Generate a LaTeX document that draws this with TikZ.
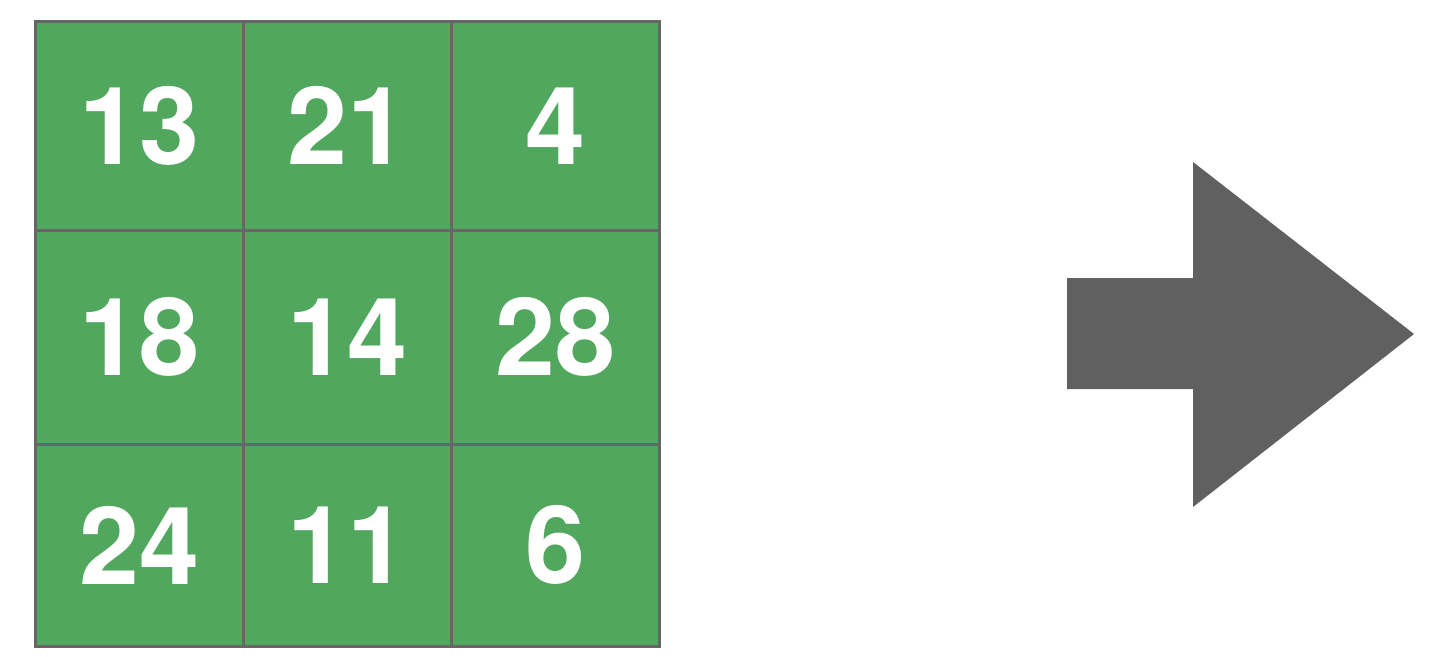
\documentclass[tikz,border=0pt]{standalone}
\usepackage{fontspec}
\setmainfont{TeX Gyre Heros}
\usepackage{tikz}
\definecolor{cellgreen}{RGB}{82,167,94}
\definecolor{gridgray}{RGB}{102,102,102}
\definecolor{arrowgray}{RGB}{96,96,96}
\tikzset{
  cell/.style={draw=gridgray, line width=3pt, fill=cellgreen, inner sep=0pt,
    text=white, font=\fontsize{108}{108}\selectfont\bfseries},
  wide/.style={minimum width=208pt},
  rowa/.style={minimum height=208.5pt},
  rowb/.style={minimum height=214pt},
  rowc/.style={minimum height=202pt}
}
\begin{document}
\begin{tikzpicture}[x=1pt,y=-1pt]
                \useasboundingbox (0,0) rectangle (1450,656);
                % top row
                \node[cell,wide,rowa] (c11) at (139.25,125.75) {13};
                \node[cell,wide,rowa] (c12) at (347.5,125.75) {21};
                \node[cell,wide,rowa] (c13) at (555.25,125.75) {4};
                % middle row
                \node[cell,wide,rowb] (c21) at (139.25,337) {18};
                \node[cell,wide,rowb] (c22) at (347.5,337) {14};
                \node[cell,wide,rowb] (c23) at (555.25,337) {28};
                % bottom row
                \node[cell,wide,rowc] (c31) at (139.25,545) {24};
                \node[cell,wide,rowc] (c32) at (347.5,545) {11};
                \node[cell,wide,rowc] (c33) at (555.25,545) {6};

                % block arrow
                \fill[arrowgray] (1067,278) -- (1193,278) -- (1193,162) -- (1414,334)
                  -- (1193,507) -- (1193,389) -- (1067,389) -- cycle;
            \end{tikzpicture}
\end{document}
